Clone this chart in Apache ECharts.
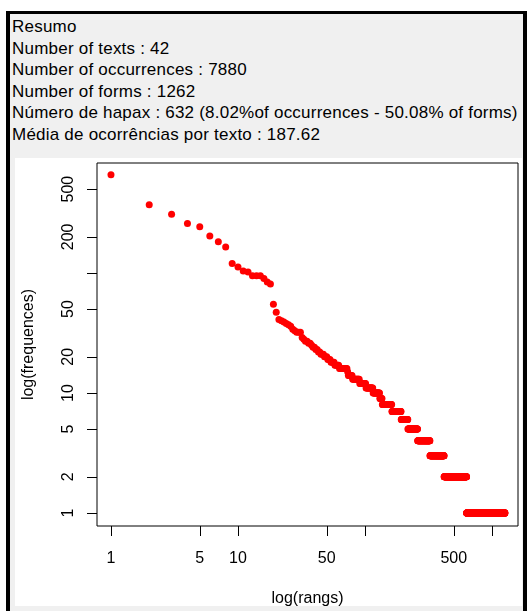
<!DOCTYPE html>
<html>
<head>
<meta charset="utf-8">
<script src="https://cdn.jsdelivr.net/npm/echarts@6/dist/echarts.min.js"></script>
<style>
  html, body { margin: 0; padding: 0; background: #fff; width: 529px; height: 611px; overflow: hidden; }
  #frame {
    position: absolute; left: 6px; top: 11px; width: 513px; height: 620px;
    background: #f0f0f0; border-top: 3px solid #000; border-left: 4px solid #000; border-right: 4px solid #000;
  }
  #summary {
    position: absolute; left: 12px; top: 16px; white-space: nowrap; letter-spacing: 0.22px;
    font-family: "Liberation Sans", Arial, sans-serif; font-size: 17px; line-height: 21.5px; color: #000;
  }
  #chart { position: absolute; left: 15px; top: 158px; width: 507px; height: 448px; background: #fff; }
</style>
</head>
<body>
<div id="frame"></div>
<div id="summary"></div>
<div id="chart"></div>
<script>
// texto do resumo
const summaryLines = [
    'Resumo',
    'Number of texts : 42',
    'Number of occurrences : 7880',
    'Number of forms : 1262',
    'Número de hapax : 632 (8.02%of occurrences - 50.08% of forms)',
    'Média de ocorrências por texto : 187.62'
];

// frequency spectrum: frequency -> number of forms having it
const freqValues = [659, 371, 308, 258, 243, 203, 182, 165, 120, 112, 104, 102, 95, 90, 84, 81,
    55, 47, 41, 40, 39, 38, 37, 36, 34, 33, 32, 29, 28, 27, 26, 25, 24, 23, 22, 21, 20, 19, 18, 17,
    16, 15, 14, 13, 12, 11, 10, 9, 8, 7, 6, 5, 4, 3, 2, 1];
const formCounts = [1, 1, 1, 1, 1, 1, 1, 1, 1, 1, 1, 1, 3, 1, 1, 1,
    1, 1, 1, 1, 1, 1, 1, 1, 1, 1, 3, 1, 1, 2, 2, 1, 2, 2, 2, 3, 3, 3, 4, 5,
    10, 1, 6, 11, 11, 14, 15, 6, 26, 30, 25, 42, 65, 95, 211, 632];

const xTickValues = [1, 5, 10, 50, 100, 500, 1000];
const xLabelValues = [1, 5, 10, 50, 500];
const yTickValues = [1, 2, 5, 10, 20, 50, 100, 200, 500];
const yLabelValues = [1, 2, 5, 10, 20, 50, 200, 500];

document.getElementById('summary').innerHTML = summaryLines.join('<br>');

// rank / frequency pairs
let points = [];
let rank = 0;
for (let i = 0; i < freqValues.length; i++) {
    for (let k = 0; k < formCounts[i]; k++) {
        rank++;
        points.push([rank, freqValues[i]]);
    }
}

const font = '"Liberation Sans", Arial, sans-serif';
let chart = echarts.init(document.getElementById('chart'));

let option = {
    animation: false,
    backgroundColor: '#fff',
    grid: {
        left: 82, top: 5, width: 421, height: 363,
        containLabel: false,
        outerBoundsMode: 'none',
        show: true, borderColor: '#000', borderWidth: 1, backgroundColor: 'transparent'
    },
    xAxis: {
        type: 'log',
        min: 0.776,
        max: 1602,
        name: 'log(rangs)',
        nameLocation: 'middle',
        nameGap: 65,
        nameTextStyle: { fontFamily: font, fontSize: 16, color: '#000' },
        axisLine: { show: false },
        axisTick: { show: true, length: 10, customValues: xTickValues, lineStyle: { color: '#000' } },
        axisLabel: { customValues: xLabelValues, margin: 25, fontFamily: font, fontSize: 16, color: '#000' },
        splitLine: { show: false },
        minorTick: { show: false }
    },
    yAxis: {
        type: 'log',
        min: 0.779,
        max: 825,
        name: 'log(frequences)',
        nameLocation: 'middle',
        nameGap: 60,
        nameTextStyle: { fontFamily: font, fontSize: 16, color: '#000' },
        axisLine: { show: false },
        axisTick: { show: true, length: 10, customValues: yTickValues, lineStyle: { color: '#000' } },
        axisLabel: { customValues: yLabelValues, rotate: 90, margin: 20, fontFamily: font, fontSize: 16, color: '#000' },
        splitLine: { show: false },
        minorTick: { show: false }
    },
    series: [{
        type: 'scatter',
        data: points,
        symbol: 'circle',
        symbolSize: 7,
        itemStyle: { color: '#ff0000', opacity: 1 },
        emphasis: { disabled: true },
        silent: true
    }]
};

chart.setOption(option);
</script>
</body>
</html>
